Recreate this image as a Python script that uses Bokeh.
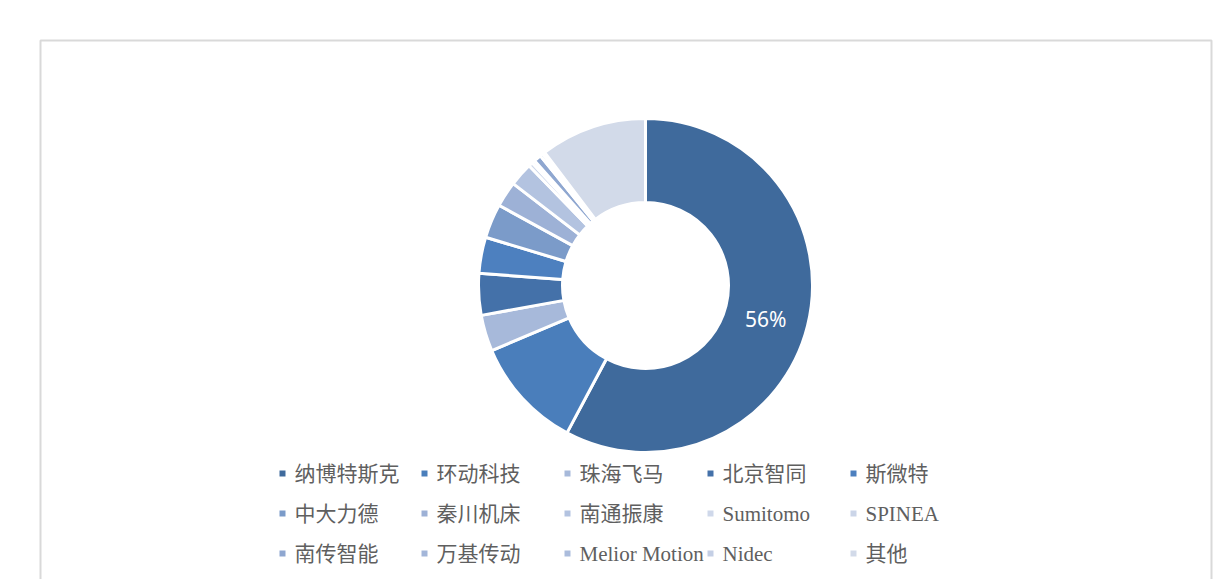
import numpy as np
from bokeh.plotting import figure
from bokeh.models import Range1d, ColumnDataSource
from bokeh.core.properties import value
from bokeh.embed import file_html
from bokeh.resources import INLINE

# ---- data ----
companies = ["纳博特斯克", "环动科技", "珠海飞马", "北京智同", "斯微特",
             "中大力德", "秦川机床", "南通振康", "Sumitomo", "SPINEA",
             "南传智能", "万基传动", "Melior Motion", "Nidec", "其他"]
shares = [56.0, 10.5, 3.4, 3.9, 3.4,
          3.2, 2.4, 2.2, 0.4, 0.3,
          0.7, 0.3, 0.1, 0.1, 10.0]
colors = ["#3f6a9c", "#4a7ebb", "#a7b9da", "#4471a9", "#4d80bf",
          "#7b9bc9", "#9db1d6", "#b3c3e0", "#cfd8ea", "#cbd5e8",
          "#8fa7d0", "#a3b6d9", "#abbcdc", "#c4cfe5", "#d2dae9"]
shown_label = "56%"

# ---- layout constants ----
W, H = 1214, 579
IMG_H = 581


def Y(y_img):
    return IMG_H - y_img


p = figure(width=W, height=H, output_backend="svg", toolbar_location=None,
           x_range=Range1d(0, W), y_range=Range1d(IMG_H - H, IMG_H),
           min_border=0)
p.axis.visible = False
p.grid.visible = False
p.outline_line_color = None
p.background_fill_color = "white"
p.border_fill_color = "white"

# chart frame
p.line(x=[40, 40, 1211, 1211], y=[Y(600), Y(40), Y(40), Y(600)],
       line_color="#d9d9d9", line_width=2)

# donut
vals = np.array(shares, dtype=float)
frac = vals / vals.sum()
cum_end = np.cumsum(frac)
cum_start = cum_end - frac
start_angle = np.pi / 2 - cum_end * 2 * np.pi
end_angle = np.pi / 2 - cum_start * 2 * np.pi
cx, cy = 645, Y(285)
r_in, r_out = 83, 167

src = ColumnDataSource(dict(start=start_angle, end=end_angle, color=colors))
p.annular_wedge(x=cx, y=cy, inner_radius=r_in, outer_radius=r_out,
                start_angle="start", end_angle="end", fill_color="color",
                line_color="white", line_width=3, source=src)

# data label for the largest slice
mid = (start_angle[0] + end_angle[0]) / 2
rl = (r_in + r_out) / 2 - 1
p.text(x=[cx + rl * np.cos(mid)], y=[cy + rl * np.sin(mid) - 3], text=[shown_label],
       text_color="white", text_font=value("Noto Sans"), text_font_size="21px",
       text_align="center", text_baseline="middle")

# legend
col_x = [282, 424, 567, 710, 853]
row_y = [473, 513, 553]
lx, ly, tx = [], [], []
for i in range(len(companies)):
    r, c = divmod(i, 5)
    lx.append(col_x[c])
    ly.append(Y(row_y[r]))
    tx.append(col_x[c] + 12)
p.rect(x=lx, y=ly, width=6, height=6, fill_color=colors, line_color=None)
p.text(x=tx, y=ly, text=companies, text_color="#5f5f5f",
       text_font=value("'Liberation Serif', 'Noto Sans CJK SC'"),
       text_font_size="21px", text_align="left", text_baseline="middle")

open("out.html", "w").write(file_html(p, INLINE))
